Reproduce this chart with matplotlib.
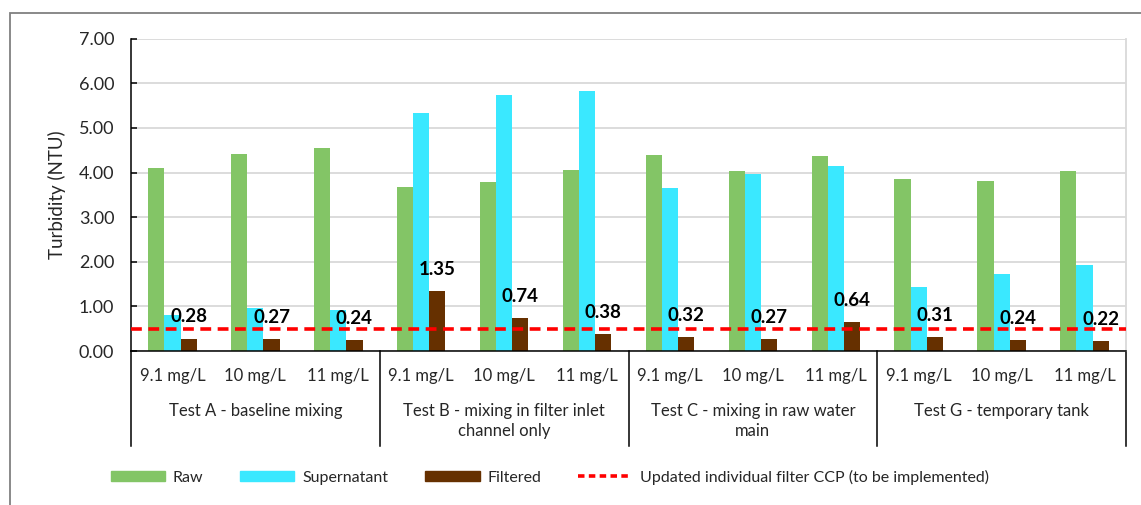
import matplotlib
matplotlib.use('Agg')
import matplotlib.pyplot as plt
import matplotlib.patches as mpatches
import matplotlib.lines as mlines
import matplotlib.transforms as mtransforms
import numpy as np

plt.rcParams['font.family'] = ['Lato', 'DejaVu Sans']

# data
doses = ['9.1 mg/L', '10 mg/L', '11 mg/L'] * 4
tests = ['Test A - baseline mixing',
         'Test B - mixing in filter inlet\nchannel only',
         'Test C - mixing in raw water\nmain',
         'Test G - temporary tank']
raw = [4.11, 4.41, 4.56, 3.68, 3.78, 4.06, 4.39, 4.03, 4.37, 3.86, 3.81, 4.04]
supernatant = [0.81, 0.96, 0.92, 5.34, 5.74, 5.83, 3.66, 3.96, 4.14, 1.44, 1.72, 1.92]
filtered = [0.28, 0.27, 0.24, 1.35, 0.74, 0.38, 0.32, 0.27, 0.64, 0.31, 0.24, 0.22]
ccp = 0.5

c_raw = '#83c566'
c_sup = '#3ae8ff'
c_fil = '#663000'
txt = '#262626'

fig = plt.figure(figsize=(11.41, 5.05), dpi=100)
ax = fig.add_axes([131/1141, 1-351/505, (1126-131)/1141, (351-38.7)/505])

x = np.arange(len(doses))
w = 0.195
ax.bar(x - w, raw, w, color=c_raw, zorder=2)
ax.bar(x, supernatant, w, color=c_sup, zorder=2)
bf = ax.bar(x + w, filtered, w, color=c_fil, zorder=2)

for b, v in zip(bf, filtered):
    ax.annotate('%.2f' % v, (b.get_x() + b.get_width()/2, v),
                xytext=(0, 15.5), textcoords='offset points',
                ha='center', va='center', fontsize=13.5, fontweight='bold',
                color='black', zorder=4)

ax.axhline(ccp, color='#ff0000', lw=2.6, dashes=(3, 1.8), zorder=3)

ax.set_xlim(-0.5, len(doses) - 0.5)
ax.set_ylim(0, 7)
ax.set_yticks(np.arange(0, 8, 1))
ax.set_yticklabels(['%.2f' % v for v in np.arange(0, 8, 1)])
ax.yaxis.grid(True, color='#d9d9d9', lw=1.3, zorder=0)
ax.set_axisbelow(True)
ax.tick_params(axis='y', direction='in', length=4.5, width=1.1,
               labelsize=13, colors='black', labelcolor=txt, pad=12)
ax.set_xticks(x)
ax.set_xticklabels(doses)
ax.tick_params(axis='x', length=0, labelsize=12, labelcolor=txt, pad=12)
ax.set_ylabel('Turbidity (NTU)', fontsize=13.5, color=txt, labelpad=9)

ax.spines['top'].set_visible(False)
ax.spines['right'].set_color('#d9d9d9')
ax.spines['right'].set_linewidth(1.3)
ax.spines['left'].set_linewidth(1.1)
ax.spines['bottom'].set_linewidth(1.1)

# group dividers and labels
trans = mtransforms.blended_transform_factory(ax.transData, ax.transAxes)
for i in range(len(tests) + 1):
    ax.plot([i*3 - 0.5, i*3 - 0.5], [0, -0.304], color='black', lw=1.1,
            transform=trans, clip_on=False)
for i, t in enumerate(tests):
    ax.text(i*3 + 1, -0.168, t, transform=trans, ha='center', va='top',
            fontsize=12, color=txt, linespacing=1.3)

handles = [mpatches.Patch(color=c_raw, label='Raw'),
           mpatches.Patch(color=c_sup, label='Supernatant'),
           mpatches.Patch(color=c_fil, label='Filtered'),
           mlines.Line2D([], [], color='#ff0000', lw=2.6, dashes=(1.8, 1.2),
                         label='Updated individual filter CCP (to be implemented)')]
fig.legend(handles=handles, loc='center', bbox_to_anchor=(0.482, 1-477/505),
           ncol=4, frameon=False, fontsize=11.5, handlelength=3.4,
           handleheight=0.65, handletextpad=0.5, columnspacing=2.3,
           labelcolor=txt)

fig.patches.append(mpatches.Rectangle((10/1141, -0.1), 1.2, 1.1 - 13/505,
                                      transform=fig.transFigure, fill=False,
                                      edgecolor='#808080', lw=1.3))

fig.savefig('out.png', dpi=100)
